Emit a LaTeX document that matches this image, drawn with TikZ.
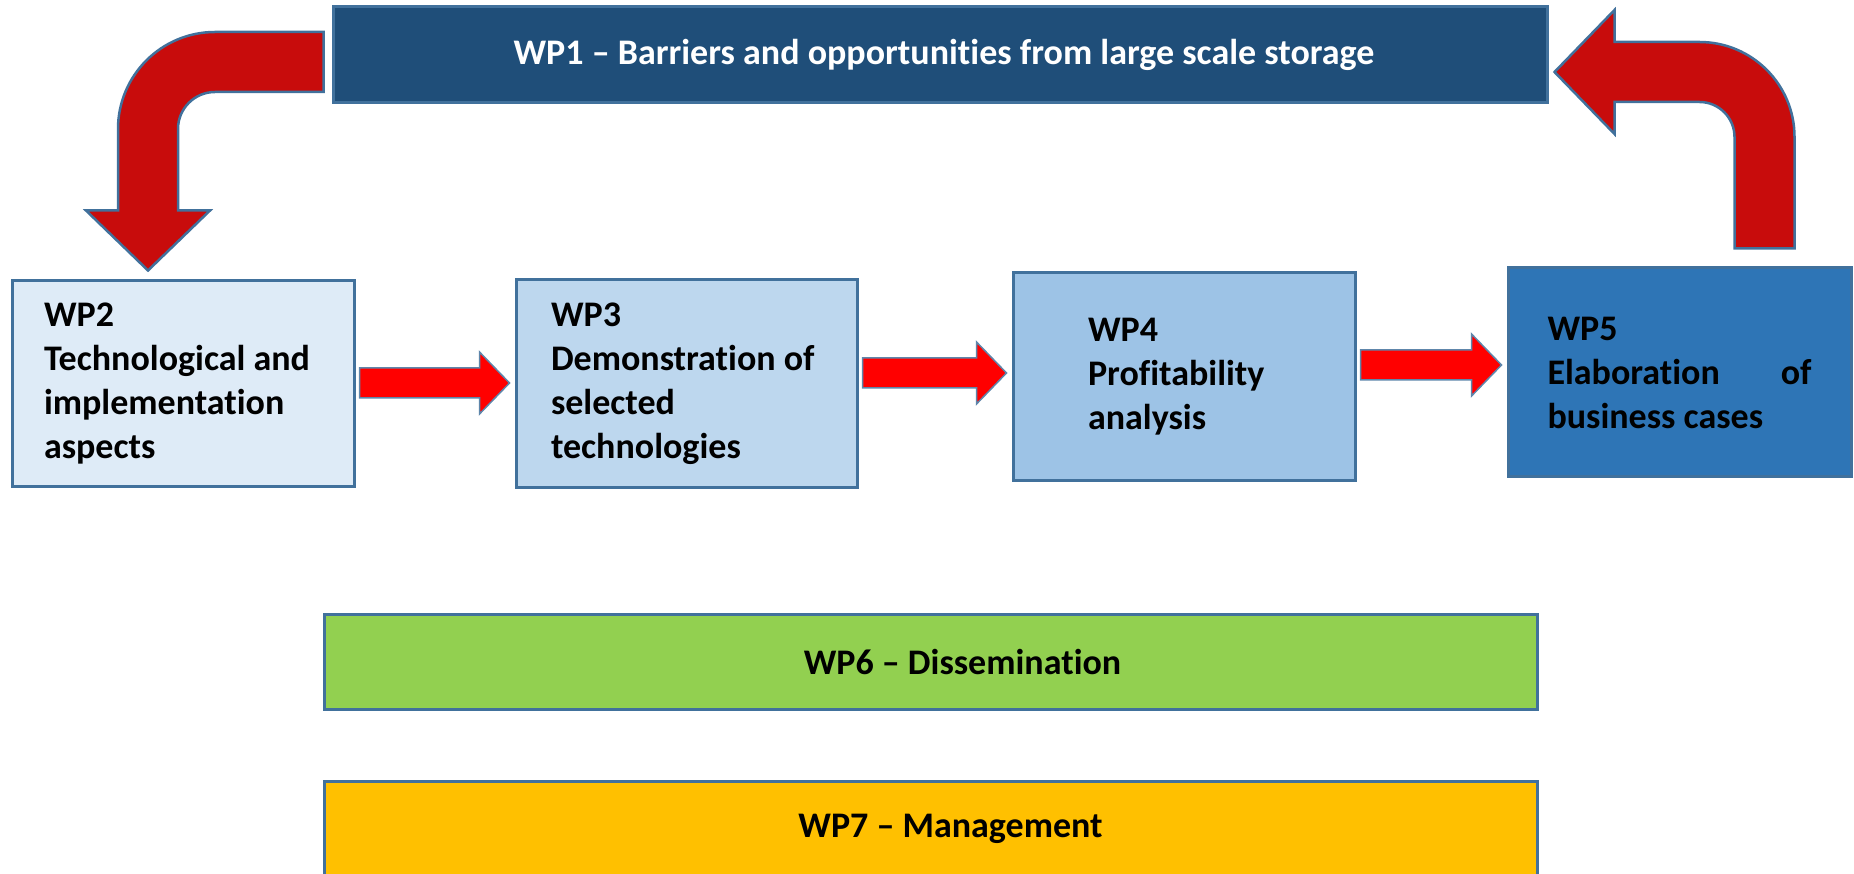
\documentclass[tikz,border=0pt]{standalone}
\usepackage{fontspec}
\setmainfont{Carlito}[Ligatures={TeX,NoCommon}]
\usetikzlibrary{calc}

\definecolor{boxline}{HTML}{41719C}
\definecolor{wpdark}{HTML}{1F4E79}
\definecolor{wplight}{HTML}{DEEBF7}
\definecolor{wpmid}{HTML}{BDD7EE}
\definecolor{wpsky}{HTML}{9DC3E6}
\definecolor{wpblue}{HTML}{2E75B6}
\definecolor{wpgreen}{HTML}{92D050}
\definecolor{wpgold}{HTML}{FFC000}
\definecolor{turnred}{RGB}{200,12,12}

\newcommand{\flowarrow}[3]{%
  \path[flow] let \p1=(#1.east), \p2=(#2.west), \p3=(0,#3) in
    (\x1+4,\y3+15) -- (\x2-35,\y3+15) -- (\x2-35,\y3+31) -- (\x2-5,\y3)
    -- (\x2-35,\y3-31) -- (\x2-35,\y3-15) -- (\x1+4,\y3-15) -- cycle;}

\begin{document}
\begin{tikzpicture}[x=1pt,y=1pt,
  wpbox/.style={draw=boxline,line width=3pt,inner sep=0pt,align=left,
    font=\bfseries\fontsize{36}{44}\selectfont,
    execute at begin node={\spaceskip=0pt\xspaceskip=0pt}},
  flow/.style={fill=red,draw=boxline!85,line width=1.5pt},
  turn/.style={fill=turnred,draw=boxline,line width=2.5pt}]

  \useasboundingbox (0,0) rectangle (1854,873);
  \clip (0,0) rectangle (1854,873);

  \node[wpbox,fill=wpdark,text=white,minimum width=1214pt,minimum height=96pt]
    (wp1) at (940,818) {\hspace*{8pt}WP1 -- Barriers and opportunities from large scale storage};
  \node[wpbox,fill=wplight,minimum width=342pt,minimum height=206pt,text width=278pt]
    (wp2) at (183,489) {WP2\\Technological~and\\implementation\\aspects};
  \node[wpbox,fill=wpmid,minimum width=341pt,minimum height=208pt,text width=271pt]
    (wp3) at (686.5,489) {WP3\\Demonstration~of\\selected\\technologies};
  \node[wpbox,fill=wpsky,minimum width=342pt,minimum height=208pt,text width=192pt]
    (wp4) at (1184,496) {WP4\\Profitability\\analysis};
  \node[wpbox,fill=wpblue,minimum width=343pt,minimum height=209pt,text width=264pt]
    (wp5) at (1679.5,500.5) {WP5\\Elaboration\hfill of\\business cases};
  \node[wpbox,fill=wpgreen,minimum width=1213pt,minimum height=94pt]
    (wp6) at (930.5,211) {\hspace*{64pt}WP6 -- Dissemination};
  \node[wpbox,fill=wpgold,minimum width=1213pt,minimum height=96pt]
    (wp7) at (930.5,44) {\hspace*{40pt}WP7 -- Management};

  \flowarrow{wp2}{wp3}{490}
  \flowarrow{wp3}{wp4}{500}
  \flowarrow{wp4}{wp5}{508}

  \coordinate (ltail) at ($(wp1.west)+(-8,-7)$);
  \coordinate (ltip) at ($(wp2.north)+(-35,9)$);
  \path[turn] let \p1=(ltail), \p2=(ltip) in
    (\x1,\y1+30) -- (\x2+67,\y1+30) arc[start angle=90,end angle=180,radius=97]
    -- (\x2-30,\y2+60) -- (\x2-62,\y2+60) -- (\x2,\y2) -- (\x2+62,\y2+60)
    -- (\x2+30,\y2+60) -- (\x2+30,\y1-67) arc[start angle=180,end angle=90,radius=37]
    -- (\x1,\y1-30) -- cycle;

  \coordinate (rtail) at ($(wp5.north)+(85,18)$);
  \coordinate (rtip) at ($(wp1.east)+(6,-17)$);
  \path[turn] let \p1=(rtail), \p2=(rtip) in
    (\x1-30,\y1) -- (\x1-30,\y2-65) arc[start angle=0,end angle=90,radius=35]
    -- (\x2+60,\y2-30) -- (\x2+60,\y2-62) -- (\x2,\y2) -- (\x2+60,\y2+62)
    -- (\x2+60,\y2+30) -- (\x1-65,\y2+30) arc[start angle=90,end angle=0,radius=95]
    -- (\x1+30,\y1) -- cycle;
\end{tikzpicture}
\end{document}
